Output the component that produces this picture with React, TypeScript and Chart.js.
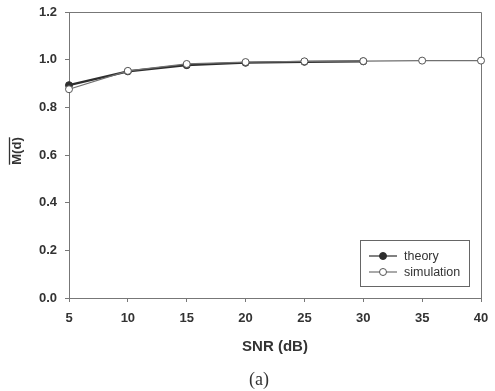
import React, { useEffect, useRef } from "react";
import { Chart, registerables } from "chart.js";

Chart.register(...registerables);

const snrTheory = [5, 10, 15, 20, 25, 30];
const theoryValues = [0.893, 0.951, 0.977, 0.987, 0.991, 0.993];
const snrSimulation = [5, 10, 15, 20, 25, 30, 35, 40];
const simulationValues = [0.876, 0.953, 0.982, 0.99, 0.993, 0.994, 0.996, 0.996];
const seriesLabels = ["theory", "simulation"];
const xTitle = "SNR (dB)";
const yTitle = "M(d)";
const caption = "(a)";

const TEXT = "#333";
const AXIS = "#777";
const SANS = "'Liberation Sans', Arial, sans-serif";

const decorPlugin = {
  id: "decor",
  beforeDatasetsDraw(chart: any) {
    const { ctx, chartArea } = chart;
    const { left, top, right, bottom } = chartArea;
    ctx.save();
    ctx.strokeStyle = AXIS;
    ctx.lineWidth = 1;
    ctx.beginPath();
    ctx.moveTo(left, Math.round(top) + 0.5);
    ctx.lineTo(Math.round(right) + 0.5, Math.round(top) + 0.5);
    ctx.lineTo(Math.round(right) + 0.5, bottom);
    ctx.stroke();
    ctx.restore();
  },
  afterDraw(chart: any) {
    const { ctx, chartArea } = chart;
    const cy = (chartArea.top + chartArea.bottom) / 2 - 4;
    const cx = 17;
    // y title with overline
    ctx.save();
    ctx.translate(cx, cy);
    ctx.rotate(-Math.PI / 2);
    ctx.font = `bold 13px ${SANS}`;
    ctx.fillStyle = TEXT;
    ctx.textAlign = "center";
    ctx.textBaseline = "middle";
    ctx.fillText(yTitle, 0, 0);
    const w = ctx.measureText(yTitle).width;
    ctx.strokeStyle = TEXT;
    ctx.lineWidth = 1.3;
    ctx.beginPath();
    ctx.moveTo(-w / 2, -7.5);
    ctx.lineTo(w / 2, -7.5);
    ctx.stroke();
    ctx.restore();

    // legend
    const bx = 360.5, by = 240.5, bw = 109, bh = 46;
    ctx.save();
    ctx.fillStyle = "#fff";
    ctx.fillRect(bx, by, bw, bh);
    ctx.strokeStyle = "#666";
    ctx.lineWidth = 1;
    ctx.strokeRect(bx, by, bw, bh);
    chart.data.datasets.forEach((ds: any, i: number) => {
      const y = 256 + i * 16;
      ctx.strokeStyle = ds.borderColor;
      ctx.lineWidth = 1.2;
      ctx.beginPath();
      ctx.moveTo(369, y);
      ctx.lineTo(397, y);
      ctx.stroke();
      ctx.beginPath();
      ctx.arc(383, y, ds.pointRadius, 0, Math.PI * 2);
      ctx.fillStyle = ds.pointBackgroundColor;
      ctx.fill();
      ctx.lineWidth = 1;
      ctx.strokeStyle = ds.pointBorderColor;
      ctx.stroke();
      ctx.fillStyle = TEXT;
      ctx.font = `12.5px ${SANS}`;
      ctx.textAlign = "left";
      ctx.textBaseline = "middle";
      ctx.fillText(ds.label, 404, y + 0.5);
    });
    ctx.restore();

    // caption
    ctx.save();
    ctx.font = `18px 'Liberation Serif', 'Times New Roman', serif`;
    ctx.fillStyle = TEXT;
    ctx.textAlign = "center";
    ctx.textBaseline = "middle";
    ctx.fillText(caption, 259, 380);
    ctx.restore();
  },
};

export default function App() {
  const ref = useRef<HTMLCanvasElement>(null);
  useEffect(() => {
    if (!ref.current) return;
    const chart = new Chart(ref.current, {
      type: "line",
      data: {
        datasets: [
          {
            label: seriesLabels[0],
            data: snrTheory.map((x, i) => ({ x, y: theoryValues[i] })),
            borderColor: "#2e2e2e",
            borderWidth: 2.2,
            pointRadius: 3.5,
            pointBackgroundColor: "#2e2e2e",
            pointBorderColor: "#2e2e2e",
            pointBorderWidth: 1,
            clip: false,
            order: 1,
          },
          {
            label: seriesLabels[1],
            data: snrSimulation.map((x, i) => ({ x, y: simulationValues[i] })),
            borderColor: "#707070",
            borderWidth: 1.2,
            pointRadius: 3.5,
            pointBackgroundColor: "#ffffff",
            pointBorderColor: "#555",
            pointBorderWidth: 1,
            clip: false,
            order: 0,
          },
        ],
      },
      options: {
        responsive: false,
        animation: false,
        devicePixelRatio: 1,
        layout: { padding: { left: 0, top: 12, right: 14, bottom: 0 } },
        plugins: { legend: { display: false }, tooltip: { enabled: false } },
        scales: {
          x: {
            type: "linear",
            min: 5,
            max: 40,
            afterFit: (s: any) => {
              s.height = 93;
              s.paddingLeft = 0;
              s.paddingRight = 0;
            },
            ticks: {
              stepSize: 5,
              color: TEXT,
              font: { family: SANS, size: 13, weight: "bold" },
              padding: 9,
            },
            grid: { drawOnChartArea: false, drawTicks: true, tickLength: 4, color: AXIS },
            border: { display: true, color: AXIS, width: 1 },
            title: {
              display: true,
              text: xTitle,
              color: TEXT,
              font: { family: SANS, size: 15, weight: "bold" },
              padding: { top: 0, bottom: 35 },
            },
          },
          y: {
            min: 0,
            max: 1.2,
            afterFit: (s: any) => {
              s.width = 69;
              s.paddingTop = 0;
              s.paddingBottom = 0;
            },
            ticks: {
              stepSize: 0.2,
              color: TEXT,
              font: { family: SANS, size: 13, weight: "bold" },
              padding: 8,
              callback: (v: any) => Number(v).toFixed(1),
            },
            grid: { drawOnChartArea: false, drawTicks: true, tickLength: 4, color: AXIS },
            border: { display: true, color: AXIS, width: 1 },
          },
        },
      },
      plugins: [decorPlugin],
    });
    return () => chart.destroy();
  }, []);
  return (
    <div style={{ position: "absolute", left: 0, top: 0, width: 495, height: 391, background: "#fff" }}>
      <canvas ref={ref} width={495} height={391} />
    </div>
  );
}
